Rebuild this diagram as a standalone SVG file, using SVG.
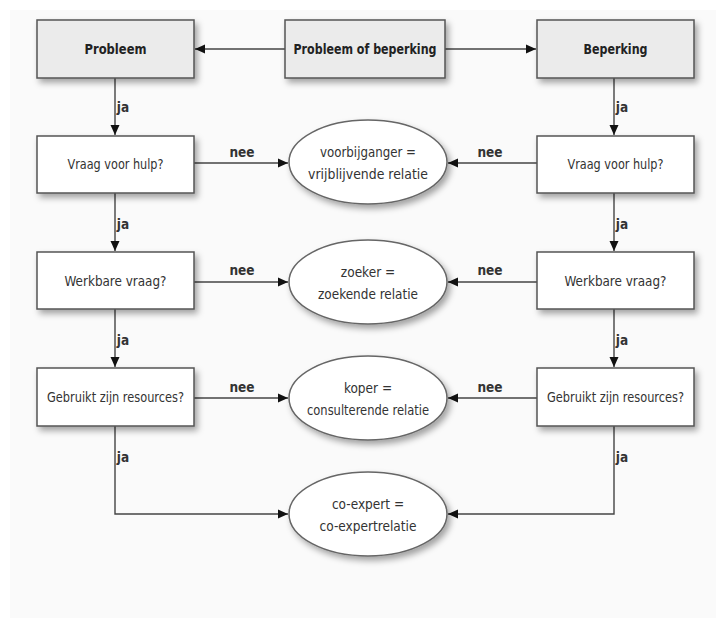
<svg xmlns="http://www.w3.org/2000/svg" width="716" height="618" viewBox="0 0 716 618">
<defs>
<filter id="sh" x="-20%" y="-20%" width="140%" height="150%">
<feDropShadow dx="3" dy="4" stdDeviation="3" flood-color="#000" flood-opacity="0.35"/>
</filter>
<marker id="ah" viewBox="0 0 10 10" refX="10" refY="5" markerWidth="10" markerHeight="10" markerUnits="userSpaceOnUse" orient="auto">
<path d="M0,0.5 L10,5 L0,9.5 Z" fill="#111"/>
</marker>
<style>
.box{fill:#fff;stroke:#555;stroke-width:1.5;filter:url(#sh)}
.top{fill:#ebebeb;stroke:#555;stroke-width:1.5;filter:url(#sh)}
.ell{fill:#fff;stroke:#666;stroke-width:1.5;filter:url(#sh)}
.t{font-family:"DejaVu Sans Condensed","Liberation Sans",sans-serif;font-size:13.5px;fill:#333;text-anchor:middle}
.b{font-weight:bold;fill:#222}
.lbl{font-family:"DejaVu Sans Condensed","Liberation Sans",sans-serif;font-size:13.5px;font-weight:bold;fill:#333;text-anchor:middle}
.c{fill:none;stroke:#444;stroke-width:1.4}
</style>
</defs>
<rect x="0" y="0" width="716" height="618" fill="#fff"/>
<rect x="10" y="10" width="706" height="608" fill="#fafafa"/>

<g id="connectors">
<path class="c" d="M285,49 H195" marker-end="url(#ah)"/>
<path class="c" d="M445,49 H536" marker-end="url(#ah)"/>
<path class="c" d="M115,78 V135" marker-end="url(#ah)"/>
<path class="c" d="M614,78 V135" marker-end="url(#ah)"/>
<path class="c" d="M115,193 V251" marker-end="url(#ah)"/>
<path class="c" d="M614,193 V251" marker-end="url(#ah)"/>
<path class="c" d="M115,309 V367" marker-end="url(#ah)"/>
<path class="c" d="M614,309 V367" marker-end="url(#ah)"/>
<path class="c" d="M194,163 H288" marker-end="url(#ah)"/>
<path class="c" d="M537,163 H448" marker-end="url(#ah)"/>
<path class="c" d="M194,282 H288" marker-end="url(#ah)"/>
<path class="c" d="M537,282 H448" marker-end="url(#ah)"/>
<path class="c" d="M194,398 H288" marker-end="url(#ah)"/>
<path class="c" d="M537,398 H448" marker-end="url(#ah)"/>
<path class="c" d="M115,426 V514 H288" marker-end="url(#ah)"/>
<path class="c" d="M614,426 V514 H448" marker-end="url(#ah)"/>
<text class="lbl" x="123" y="112">ja</text>
<text class="lbl" x="622" y="112">ja</text>
<text class="lbl" x="123" y="229">ja</text>
<text class="lbl" x="622" y="229">ja</text>
<text class="lbl" x="123" y="345">ja</text>
<text class="lbl" x="622" y="345">ja</text>
<text class="lbl" x="123" y="462">ja</text>
<text class="lbl" x="622" y="462">ja</text>
<text class="lbl" x="242" y="157">nee</text>
<text class="lbl" x="490" y="157">nee</text>
<text class="lbl" x="242" y="275">nee</text>
<text class="lbl" x="490" y="275">nee</text>
<text class="lbl" x="242" y="392">nee</text>
<text class="lbl" x="490" y="392">nee</text>
</g>

<g id="probleem"><rect class="top" x="37" y="20" width="157" height="58"/><text class="t b" x="115.5" y="54" textLength="62" lengthAdjust="spacingAndGlyphs">Probleem</text></g>
<g id="probleem-of-beperking"><rect class="top" x="285" y="20" width="160" height="58"/><text class="t b" x="365" y="54" textLength="143" lengthAdjust="spacingAndGlyphs">Probleem of beperking</text></g>
<g id="beperking"><rect class="top" x="537" y="20" width="157" height="58"/><text class="t b" x="615.5" y="54" textLength="64" lengthAdjust="spacingAndGlyphs">Beperking</text></g>

<g id="vraag-links"><rect class="box" x="37" y="136" width="157" height="57"/><text class="t" x="115.5" y="169" textLength="96" lengthAdjust="spacingAndGlyphs">Vraag voor hulp?</text></g>
<g id="vraag-rechts"><rect class="box" x="537" y="136" width="157" height="57"/><text class="t" x="615.5" y="169" textLength="96" lengthAdjust="spacingAndGlyphs">Vraag voor hulp?</text></g>
<g id="werkbaar-links"><rect class="box" x="37" y="252" width="157" height="57"/><text class="t" x="115.5" y="286" textLength="102" lengthAdjust="spacingAndGlyphs">Werkbare vraag?</text></g>
<g id="werkbaar-rechts"><rect class="box" x="537" y="252" width="157" height="57"/><text class="t" x="615.5" y="286" textLength="102" lengthAdjust="spacingAndGlyphs">Werkbare vraag?</text></g>
<g id="gebruikt-links"><rect class="box" x="37" y="368" width="157" height="58"/><text class="t" x="115.5" y="402" textLength="137" lengthAdjust="spacingAndGlyphs">Gebruikt zijn resources?</text></g>
<g id="gebruikt-rechts"><rect class="box" x="537" y="368" width="157" height="58"/><text class="t" x="615.5" y="402" textLength="137" lengthAdjust="spacingAndGlyphs">Gebruikt zijn resources?</text></g>

<g id="voorbijganger"><ellipse class="ell" cx="368" cy="162" rx="79" ry="42"/><text class="t" x="368" y="157" textLength="96" lengthAdjust="spacingAndGlyphs">voorbijganger =</text><text class="t" x="368" y="179" textLength="120" lengthAdjust="spacingAndGlyphs">vrijblijvende relatie</text></g>
<g id="zoeker"><ellipse class="ell" cx="368" cy="282" rx="79" ry="42"/><text class="t" x="368" y="277">zoeker =</text><text class="t" x="368" y="299" textLength="100" lengthAdjust="spacingAndGlyphs">zoekende relatie</text></g>
<g id="koper"><ellipse class="ell" cx="368" cy="398" rx="79" ry="42"/><text class="t" x="368" y="393">koper =</text><text class="t" x="368" y="415" textLength="122" lengthAdjust="spacingAndGlyphs">consulterende relatie</text></g>
<g id="co-expert"><ellipse class="ell" cx="368" cy="514" rx="79" ry="42"/><text class="t" x="368" y="509">co-expert =</text><text class="t" x="368" y="531" textLength="97" lengthAdjust="spacingAndGlyphs">co-expertrelatie</text></g>
</svg>
